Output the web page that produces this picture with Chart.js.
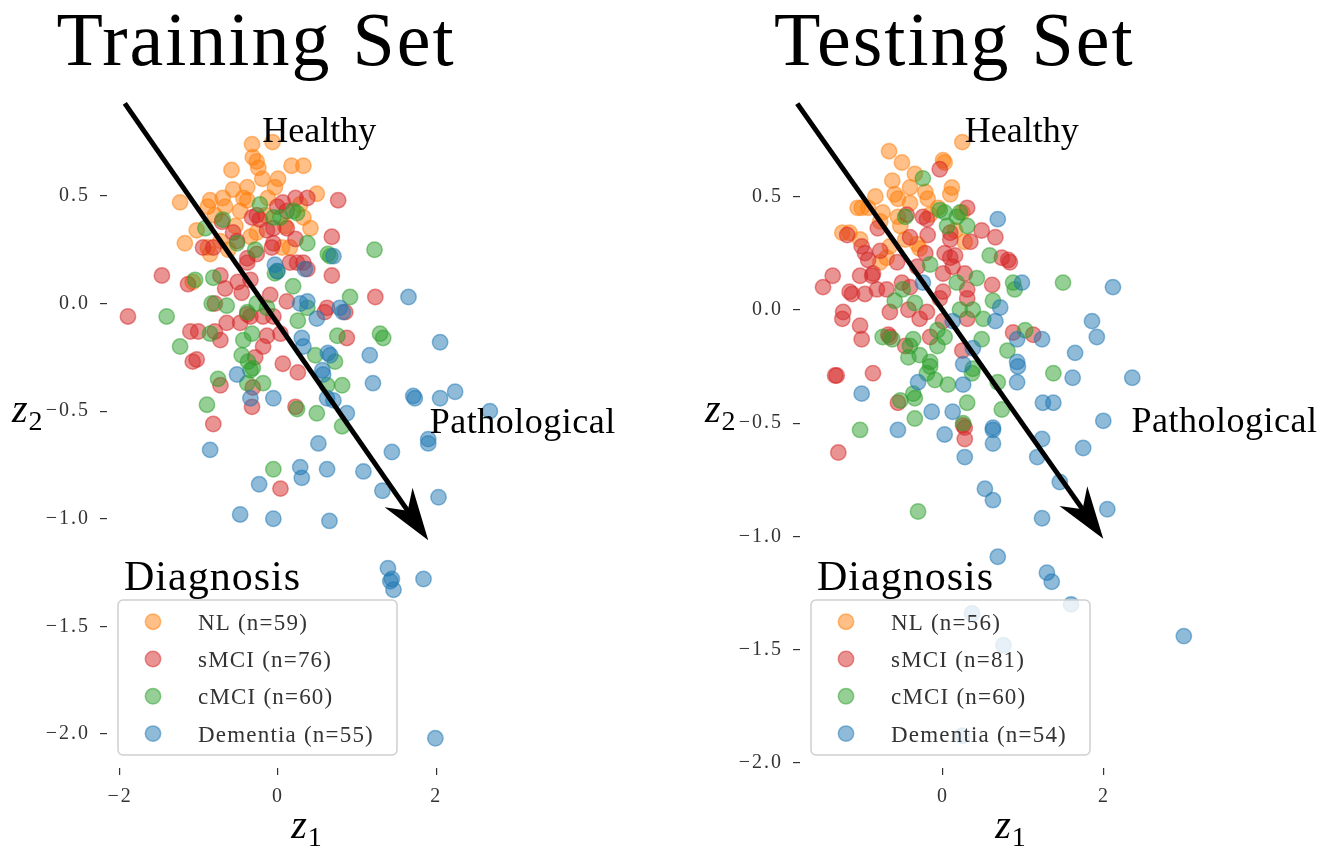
<!DOCTYPE html>
<html>
<head>
<meta charset="utf-8">
<script src="https://cdn.jsdelivr.net/npm/chart.js@4.4.0/dist/chart.umd.min.js"></script>
<style>
  body { margin: 0; background: #fff; }
  .panel { position: absolute; top: 0; }
  #left { left: 0; }
  #right { left: 660px; }
</style>
</head>
<body>
<div class="panel" id="left"><canvas id="trainChart" width="660" height="848"></canvas></div>
<div class="panel" id="right"><canvas id="testChart" width="661" height="848"></canvas></div>
<script>
const categories = ["NL", "sMCI", "cMCI", "Dementia"];
const colors = ["#ff7f0e", "#d62728", "#2ca02c", "#1f77b4"];
const trainCounts = [59, 76, 60, 55];
const testCounts = [56, 81, 60, 54];
const trainXTicks = [-2, 0, 2];
const testXTicks = [0, 2];
const yTicks = [0.5, 0, -0.5, -1, -1.5, -2];

// training set points [z1, z2]
const trainNL = [[-0.33,0.74],[-0.07,0.75],[-0.32,0.68],[-0.27,0.66],[-0.25,0.63],[-0.59,0.62],[0.17,0.64],[0.32,0.64],[0.0,0.58],[-0.04,0.54],[-0.57,0.53],[-0.39,0.54],[-1.24,0.47],[-0.86,0.48],[-0.89,0.45],[-0.70,0.49],[-0.67,0.45],[-0.44,0.49],[-0.39,0.48],[-0.13,0.49],[0.49,0.51],[0.32,0.40],[0.41,0.35],[-1.03,0.34],[-1.18,0.28],[-0.86,0.23],[-0.89,0.26],[-0.27,0.33],[-0.35,0.31],[0.15,0.26],[0.05,0.26],[-0.63,0.25],[-1.08,0.10],[-0.80,0.41],[-0.54,0.36],[-0.16,0.41],[-0.48,0.43],[-0.73,0.29],[0.28,0.46],[-0.20,0.58],[0.09,0.36]];
const trainSMCI = [[0.76,0.48],[0.37,0.49],[0.22,0.49],[0.06,0.47],[-0.01,0.45],[0.11,0.43],[-0.27,0.41],[-0.33,0.40],[-0.23,0.39],[-0.71,0.38],[-0.57,0.33],[-0.52,0.29],[-0.14,0.34],[-0.06,0.35],[0.11,0.35],[0.22,0.30],[0.68,0.31],[-0.95,0.26],[-0.82,0.26],[-0.27,0.23],[-0.06,0.28],[-0.08,0.26],[-0.39,0.19],[-0.39,0.21],[0.24,0.19],[0.32,0.19],[0.15,0.19],[0.37,0.16],[0.68,0.13],[-1.47,0.13],[-1.14,0.09],[-0.73,0.13],[-0.67,0.07],[-0.51,0.10],[-0.46,0.05],[-0.35,0.11],[-0.10,0.04],[0.11,0.01],[-0.80,0.0],[-1.90,-0.06],[1.23,0.03],[0.62,-0.02],[0.59,-0.04],[0.85,-0.04],[-0.35,-0.06],[-0.48,-0.09],[-0.65,-0.09],[-0.39,-0.05],[-0.19,-0.06],[-0.06,-0.06],[-1.11,-0.13],[-1.01,-0.13],[-0.80,-0.13],[-0.73,-0.17],[-0.14,-0.15],[0.03,-0.14],[0.87,-0.16],[-0.19,-0.20],[-0.29,-0.25],[-1.08,-0.27],[-1.03,-0.26],[0.06,-0.28],[0.25,-0.32],[-0.73,-0.38],[-0.32,-0.39],[-0.33,-0.48],[0.22,-0.48],[-0.82,-0.56],[0.03,-0.86]];
const trainCMCI = [[-0.23,0.46],[0.24,0.42],[0.19,0.43],[0.03,0.40],[-0.06,0.40],[-0.70,0.39],[-0.92,0.35],[-0.52,0.28],[0.37,0.28],[0.63,0.23],[0.66,0.22],[1.22,0.25],[-0.29,0.25],[-0.01,0.15],[-0.04,0.14],[0.19,0.08],[-1.05,0.11],[-0.82,0.12],[0.91,0.03],[-0.84,0.0],[-0.65,-0.01],[-0.27,0.0],[-0.14,-0.02],[0.37,-0.02],[0.25,-0.08],[-1.41,-0.06],[-0.39,-0.04],[1.29,-0.14],[1.33,-0.16],[0.75,-0.15],[-0.86,-0.14],[-0.33,-0.14],[-0.44,-0.17],[-1.24,-0.20],[-0.46,-0.24],[-0.38,-0.27],[0.72,-0.27],[0.47,-0.24],[-0.32,-0.30],[-0.35,-0.31],[-0.76,-0.35],[-0.39,-0.37],[-0.19,-0.37],[0.81,-0.38],[0.62,-0.38],[-0.90,-0.47],[0.24,-0.49],[0.49,-0.51],[0.81,-0.57],[-0.06,-0.77]];
const trainDementia = [[0.70,0.22],[-0.04,0.18],[-0.01,0.15],[0.34,0.16],[1.65,0.03],[0.37,0.01],[0.28,0.0],[0.49,-0.07],[0.78,-0.02],[0.82,-0.04],[0.30,-0.16],[0.32,-0.20],[2.05,-0.18],[1.16,-0.24],[0.63,-0.23],[0.66,-0.24],[0.56,-0.31],[0.57,-0.33],[-0.52,-0.33],[1.20,-0.37],[1.71,-0.43],[1.73,-0.44],[2.05,-0.44],[2.24,-0.41],[2.68,-0.50],[-0.06,-0.44],[-0.35,-0.44],[0.62,-0.44],[0.70,-0.45],[0.87,-0.51],[0.51,-0.65],[-0.86,-0.68],[1.90,-0.63],[1.90,-0.65],[1.44,-0.69],[0.28,-0.76],[0.30,-0.81],[0.62,-0.77],[1.08,-0.78],[-0.24,-0.84],[1.32,-0.87],[2.03,-0.90],[-0.48,-0.98],[-0.06,-1.00],[0.65,-1.01],[1.39,-1.23],[1.44,-1.28],[1.46,-1.33],[1.42,-1.29],[1.84,-1.28],[1.99,-2.02]];

// testing set points [z1, z2]
const testNL = [[0.24,0.74],[-0.67,0.70],[0.0,0.66],[0.02,0.65],[-0.51,0.65],[-0.35,0.60],[-0.63,0.57],[0.11,0.54],[0.09,0.51],[-0.41,0.54],[-0.84,0.50],[-0.60,0.51],[-0.56,0.49],[-0.22,0.52],[-0.19,0.49],[-1.01,0.45],[-1.06,0.45],[-0.93,0.45],[-0.75,0.43],[-0.41,0.47],[-0.06,0.45],[-0.56,0.41],[-0.53,0.37],[-1.25,0.34],[-1.16,0.34],[-1.03,0.31],[-0.66,0.28],[-0.32,0.29],[-0.29,0.27],[0.27,0.30],[-0.78,0.21],[0.24,0.43],[-0.70,0.23],[-0.78,0.39],[-0.16,0.42],[0.15,0.35],[-0.47,0.31]];
const testSMCI = [[-0.04,0.62],[0.30,0.45],[-0.45,0.42],[-0.25,0.41],[-0.20,0.40],[-0.81,0.36],[-1.19,0.33],[-0.41,0.32],[-0.19,0.33],[0.09,0.34],[0.09,0.31],[0.48,0.35],[0.65,0.32],[0.34,0.30],[-1.01,0.28],[-0.97,0.25],[-0.78,0.26],[-0.93,0.22],[-0.22,0.25],[0.02,0.25],[0.09,0.23],[0.15,0.24],[0.73,0.23],[0.83,0.21],[0.81,0.22],[-0.57,0.21],[-0.32,0.19],[0.12,0.19],[-0.87,0.16],[-0.88,0.15],[0.0,0.16],[0.27,0.16],[-1.37,0.15],[-1.49,0.10],[-1.16,0.08],[-1.13,0.07],[-0.97,0.07],[-0.82,0.09],[-0.70,0.09],[-1.03,0.15],[-0.51,0.12],[-0.41,0.10],[0.0,0.08],[-0.04,0.05],[0.30,0.09],[0.30,0.05],[0.61,0.11],[-1.24,-0.01],[-1.25,-0.04],[-1.03,-0.07],[-1.01,-0.13],[-0.66,-0.01],[-0.43,0.0],[-0.29,-0.04],[-0.20,-0.01],[-0.16,-0.12],[0.0,-0.05],[0.30,-0.04],[-0.68,-0.11],[-0.66,-0.12],[-0.47,-0.16],[0.24,-0.18],[0.87,-0.10],[1.12,-0.11],[-1.34,-0.29],[-1.32,-0.29],[-0.87,-0.28],[-0.56,-0.41],[0.25,-0.51],[0.27,-0.52],[0.27,-0.57],[-1.30,-0.63]];
const testCMCI = [[-0.25,0.58],[-0.04,0.44],[0.02,0.43],[0.21,0.43],[0.17,0.41],[-0.47,0.41],[0.05,0.37],[0.30,0.37],[0.58,0.24],[-0.16,0.20],[0.17,0.12],[0.42,0.14],[0.87,0.12],[0.89,0.09],[1.49,0.12],[-0.50,0.09],[-0.60,0.04],[-0.35,0.03],[0.62,0.04],[0.21,0.0],[0.37,0.0],[0.50,-0.04],[-0.07,-0.09],[-0.75,-0.12],[-0.63,-0.13],[-0.37,-0.13],[-0.41,-0.16],[-0.07,-0.16],[0.02,-0.12],[0.48,-0.13],[1.02,-0.09],[-0.29,-0.20],[-0.43,-0.21],[-0.16,-0.23],[-0.16,-0.25],[0.80,-0.18],[0.37,-0.26],[0.36,-0.28],[-0.20,-0.28],[-0.10,-0.31],[0.06,-0.33],[0.68,-0.32],[1.37,-0.28],[-0.37,-0.37],[-0.35,-0.39],[-0.53,-0.40],[0.30,-0.41],[0.73,-0.44],[-0.35,-0.48],[-1.03,-0.53],[0.25,-0.50],[-0.31,-0.89]];
const testDementia = [[0.68,0.40],[0.98,0.12],[2.11,0.10],[0.71,0.01],[0.65,-0.05],[1.85,-0.05],[1.91,-0.12],[-0.25,0.12],[0.12,-0.05],[1.23,-0.13],[0.92,-0.13],[1.64,-0.19],[0.92,-0.23],[0.93,-0.25],[0.37,-0.17],[0.25,-0.24],[2.35,-0.30],[1.61,-0.30],[0.25,-0.33],[0.92,-0.32],[-0.31,-0.32],[-1.01,-0.37],[1.24,-0.41],[1.37,-0.41],[-0.14,-0.45],[0.12,-0.45],[0.62,-0.52],[1.99,-0.49],[-0.56,-0.53],[0.02,-0.55],[0.62,-0.53],[0.62,-0.59],[0.27,-0.65],[1.23,-0.57],[1.74,-0.61],[1.17,-0.65],[0.52,-0.79],[0.62,-0.84],[1.45,-0.76],[2.04,-0.88],[1.23,-0.92],[0.68,-1.09],[1.29,-1.16],[1.35,-1.20],[1.59,-1.30],[0.36,-1.34],[0.75,-1.48],[0.24,-1.88],[2.99,-1.44]];

const SERIF = "'Liberation Serif', 'Times New Roman', serif";

function rgba(hex, a) {
  const n = parseInt(hex.slice(1), 16);
  return `rgba(${(n >> 16) & 255},${(n >> 8) & 255},${n & 255},${a})`;
}

function minusFmt(v, digits) {
  const s = Math.abs(v).toFixed(digits);
  return (v < 0 ? "\u2212" : "") + s;
}

function makeDatasets(seriesList) {
  return seriesList.map((pts, i) => ({
    label: categories[i],
    data: pts.map((p) => ({ x: p[0], y: p[1] })),
    backgroundColor: rgba(colors[i], 0.5),
    borderColor: rgba(colors[i], 0.5),
    borderWidth: 1.5,
    pointRadius: 7.7,
    pointHoverRadius: 7.7,
    order: 3 - i,
    clip: false,
  }));
}

// draws the title, arrow, labels and the legend box
const decorPlugin = {
  id: "decor",
  beforeDraw(chart) {
    // wider set tick labels, closer to the TeX look
    chart.ctx.letterSpacing = "2px";
  },
  afterDatasetsDraw(chart, args, opts) {
    const ctx = chart.ctx;
    const xs = chart.scales.x;
    const ys = chart.scales.y;
    const ca = chart.chartArea;
    const px = (v) => xs.getPixelForValue(v);
    const py = (v) => ys.getPixelForValue(v);
    ctx.save();
    ctx.letterSpacing = "0px";

    // arrow
    const x0 = px(opts.arrow[0][0]), y0 = py(opts.arrow[0][1]);
    const x1 = px(opts.arrow[1][0]), y1 = py(opts.arrow[1][1]);
    const len = Math.hypot(x1 - x0, y1 - y0);
    const ux = (x1 - x0) / len, uy = (y1 - y0) / len;
    const nx = -uy, ny = ux;
    ctx.strokeStyle = "#000";
    ctx.lineWidth = 5;
    ctx.beginPath();
    ctx.moveTo(x0, y0);
    ctx.lineTo(x1 - ux * 34, y1 - uy * 34);
    ctx.stroke();
    ctx.fillStyle = "#000";
    ctx.beginPath();
    ctx.moveTo(x1, y1);
    ctx.lineTo(x1 - ux * 52 + nx * 17, y1 - uy * 52 + ny * 17);
    ctx.lineTo(x1 - ux * 36, y1 - uy * 36);
    ctx.lineTo(x1 - ux * 52 - nx * 17, y1 - uy * 52 - ny * 17);
    ctx.closePath();
    ctx.fill();

    // annotations
    ctx.fillStyle = "#000";
    ctx.textAlign = "left";
    ctx.textBaseline = "alphabetic";
    ctx.font = "36px " + SERIF;
    ctx.fillText("Healthy", px(opts.healthy[0]), py(opts.healthy[1]));
    ctx.letterSpacing = "0.5px";
    ctx.fillText("Pathological", px(opts.patho[0]), py(opts.patho[1]));

    // title
    ctx.textAlign = "center";
    ctx.font = "76px " + SERIF;
    ctx.letterSpacing = "2px";
    ctx.fillText(opts.title, px(opts.titleX), 65);
    ctx.letterSpacing = "0px";

    // axis labels z1, z2
    const drawSub = (x, y, sub, center) => {
      ctx.textAlign = "left";
      ctx.font = "italic 40px " + SERIF;
      const w1 = ctx.measureText("z").width;
      ctx.font = "28px " + SERIF;
      const w2 = ctx.measureText(sub).width;
      const sx = center ? x - (w1 + w2) / 2 : x;
      ctx.font = "italic 40px " + SERIF;
      ctx.fillText("z", sx, y);
      ctx.font = "28px " + SERIF;
      ctx.fillText(sub, sx + w1 + 1, y + 8);
    };
    drawSub((ca.left + ca.right) / 2 + 4, 838, "1", true);
    drawSub(ca.left - 95, (ca.top + ca.bottom) / 2 + 10, "2", false);

    // legend
    const bx = ca.left + 11, by = 600, bw = 279, bh = 155;
    ctx.font = "42px " + SERIF;
    ctx.textAlign = "left";
    ctx.fillStyle = "#000";
    ctx.letterSpacing = "1px";
    ctx.fillText("Diagnosis", bx + 6, by - 10);
    ctx.beginPath();
    ctx.roundRect(bx, by, bw, bh, 5);
    ctx.fillStyle = "rgba(255,255,255,0.8)";
    ctx.fill();
    ctx.strokeStyle = "#d0d0d0";
    ctx.lineWidth = 1.5;
    ctx.stroke();
    ctx.letterSpacing = "1.2px";
    categories.forEach((c, i) => {
      const cy = by + 21.7 + i * 37.3;
      ctx.beginPath();
      ctx.arc(bx + 35, cy, 7.7, 0, Math.PI * 2);
      ctx.fillStyle = rgba(colors[i], 0.5);
      ctx.fill();
      ctx.strokeStyle = rgba(colors[i], 0.5);
      ctx.lineWidth = 1.5;
      ctx.stroke();
      ctx.fillStyle = "#333";
      ctx.font = "23px " + SERIF;
      ctx.fillText(`${c} (n=${opts.counts[i]})`, bx + 80, cy + 8);
    });
    ctx.restore();
  },
};

function makeChart(canvasId, cfg) {
  return new Chart(document.getElementById(canvasId), {
    type: "scatter",
    data: { datasets: makeDatasets(cfg.series) },
    options: {
      responsive: false,
      animation: false,
      events: [],
      layout: { padding: { top: 56, right: cfg.padRight, bottom: 0, left: 0 } },
      plugins: {
        legend: { display: false },
        tooltip: { enabled: false },
        decor: cfg.decor,
      },
      scales: {
        x: {
          type: "linear",
          min: cfg.xMin,
          max: cfg.xMax,
          border: { display: false },
          grid: { drawOnChartArea: false, tickLength: 7, color: "#333", lineWidth: 1.2 },
          ticks: {
            padding: 10,
            color: "#333",
            autoSkip: false,
            maxRotation: 0,
            font: { family: SERIF, size: 20 },
            callback: (v) => minusFmt(v, 0),
          },
          afterBuildTicks: (s) => { s.ticks = cfg.xTicks.map((v) => ({ value: v })); },
          afterFit: (s) => { s.height = 80; },
        },
        y: {
          type: "linear",
          min: cfg.yMin,
          max: cfg.yMax,
          border: { display: false },
          grid: { drawOnChartArea: false, tickLength: 7, color: "#333", lineWidth: 1.2 },
          ticks: {
            padding: 10,
            color: "#333",
            autoSkip: false,
            font: { family: SERIF, size: 20 },
            callback: (v) => minusFmt(v, 1),
          },
          afterBuildTicks: (s) => { s.ticks = yTicks.map((v) => ({ value: v })); },
          afterFit: (s) => { s.width = cfg.yWidth; },
        },
      },
    },
    plugins: [decorPlugin],
  });
}

makeChart("trainChart", {
  series: [trainNL, trainSMCI, trainCMCI, trainDementia],
  xMin: -2.165, xMax: 2.77, yMin: -2.158, yMax: 1.15,
  xTicks: trainXTicks, yWidth: 107, padRight: 163,
  decor: {
    title: "Training Set", titleX: -0.28, counts: trainCounts,
    arrow: [[-1.94, 0.93], [1.90, -1.10]],
    healthy: [-0.20, 0.75], patho: [1.92, -0.60],
  },
});

makeChart("testChart", {
  series: [testNL, testSMCI, testCMCI, testDementia],
  xMin: -1.776, xMax: 3.34, yMin: -2.022, yMax: 1.12,
  xTicks: testXTicks, yWidth: 140, padRight: 109,
  decor: {
    title: "Testing Set", titleX: 0.14, counts: testCounts,
    arrow: [[-1.81, 0.91], [1.99, -1.01]],
    healthy: [0.27, 0.74], patho: [2.34, -0.54],
  },
});
</script>
</body>
</html>
